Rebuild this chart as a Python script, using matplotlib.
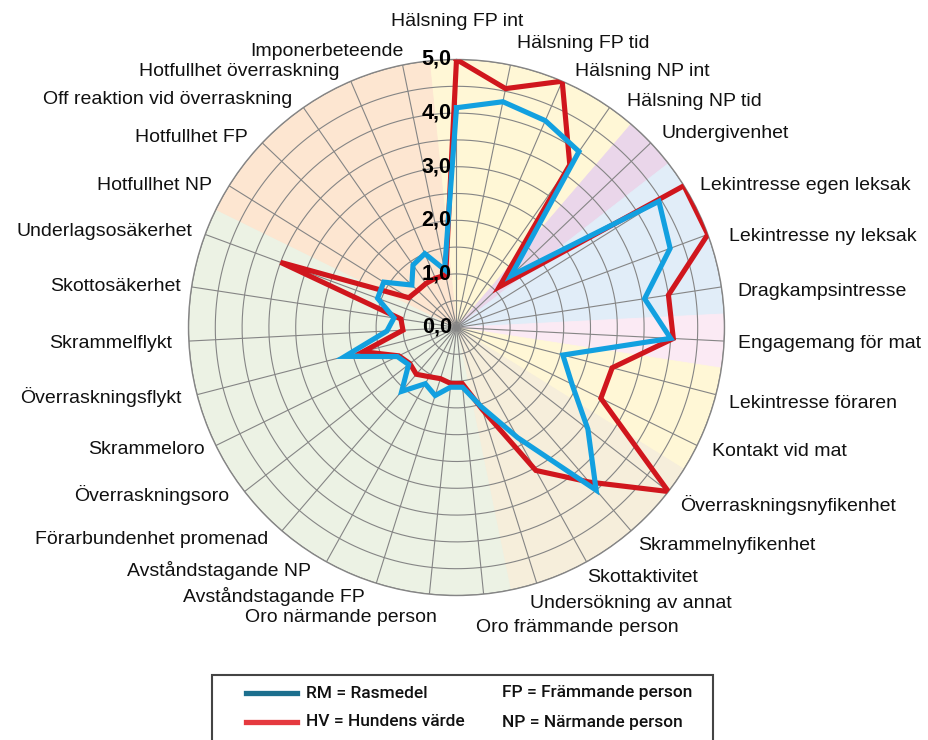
import numpy as np
import matplotlib.pyplot as plt
from matplotlib.patches import Rectangle
from matplotlib.lines import Line2D

plt.rcParams['font.family'] = ['Liberation Sans', 'DejaVu Sans']

# --- data ---
categories = [
    "Hälsning FP int", "Hälsning FP tid", "Hälsning NP int", "Hälsning NP tid",
    "Undergivenhet", "Lekintresse egen leksak", "Lekintresse ny leksak",
    "Dragkampsintresse", "Engagemang för mat", "Lekintresse föraren",
    "Kontakt vid mat", "Överraskningsnyfikenhet", "Skrammelnyfikenhet",
    "Skottaktivitet", "Undersökning av annat", "Oro främmande person",
    "Oro närmande person", "Avståndstagande FP", "Avståndstagande NP",
    "Förarbundenhet promenad", "Överraskningsoro", "Skrammeloro",
    "Överraskningsflykt", "Skrammelflykt", "Skottosäkerhet",
    "Underlagsosäkerhet", "Hotfullhet NP", "Hotfullhet FP",
    "Off reaktion vid överraskning", "Hotfullhet överraskning", "Imponerbeteende",
]
rasmedel = [4.1, 4.3, 4.2, 4.0, 1.4, 4.45, 4.25, 3.55, 4.0, 2.05,
            2.4, 3.1, 4.0, 2.35, 1.55, 1.12, 1.12, 1.33, 1.2, 1.57,
            1.13, 1.23, 2.15, 1.3, 1.18, 1.57, 1.6, 1.15, 1.42, 1.5, 1.1]
hundens_varde = [5.0, 4.55, 5.0, 3.7, 1.1, 5.0, 5.0, 4.0, 4.05, 3.0,
                 3.0, 5.0, 3.8, 3.05, 1.6, 1.05, 1.05, 1.0, 1.05, 1.15,
                 1.1, 1.2, 1.8, 1.0, 1.05, 3.5, 1.05, 1.0, 1.0, 1.0, 1.0]
groups = (["halsning"] * 4 + ["undergiven"] + ["lek"] * 3 + ["mat"]
          + ["forare"] * 2 + ["nyfiken"] * 4 + ["oro"] * 11 + ["hot"] * 5)
tick_values = [0, 1, 2, 3, 4, 5]
tick_labels = ["0,0", "1,0", "2,0", "3,0", "4,0", "5,0"]

# --- styling / layout ---
group_colors = {
    "halsning": "#fff7d6", "undergiven": "#ead6ea", "lek": "#e1edf8",
    "mat": "#fbeaf4", "forare": "#fff7d6", "nyfiken": "#f6eedb",
    "oro": "#ecf2e4", "hot": "#fde6d1",
}
# label anchors in pixels (x, y, ha)
label_pos = [
    (457, 21, "center"), (517, 44, "left"), (575, 71, "left"), (627, 101, "left"),
    (662, 134, "left"), (700, 185, "left"), (729, 237, "left"), (737, 292, "left"),
    (738, 343, "left"), (729, 403, "left"), (712, 451, "left"), (680, 505, "left"),
    (638, 545, "left"), (587, 577, "left"), (530, 603, "left"), (476, 627, "left"),
    (437, 617, "right"), (365, 597, "right"), (311, 571, "right"), (268, 540, "right"),
    (229, 495, "right"), (205, 450, "right"), (182, 397, "right"), (172, 343, "right"),
    (181, 287, "right"), (192, 232, "right"), (212, 185, "right"), (248, 137, "right"),
    (292, 100, "right"), (340, 72, "right"), (404, 52, "right"),
]
W, H = 929, 740
grid_col = "#858585"

n = len(categories)
theta = np.arange(n) * 2 * np.pi / n

fig = plt.figure(figsize=(W / 100, H / 100), dpi=100)
cx, cy, R = 456.5, 327.5, 268
ax = fig.add_axes([(cx - R) / W, (H - cy - R) / H, 2 * R / W, 2 * R / H],
                  projection="polar")
ax.set_theta_zero_location("N")
ax.set_theta_direction(-1)
ax.set_ylim(0, 5)
ax.grid(False)
ax.set_xticks([])
ax.set_yticks([])
ax.spines["polar"].set_color(grid_col)
ax.spines["polar"].set_linewidth(1.0)

# coloured sectors
cols = [group_colors[g] for g in groups]
ax.bar(theta, 5, width=2 * np.pi / n, bottom=0, color=cols, edgecolor=cols,
       linewidth=0.6, align="center", zorder=0)

# rings and spokes
tt = np.linspace(0, 2 * np.pi, 500)
for r in np.arange(0.5, 5.01, 0.5):
    ax.plot(tt, np.full_like(tt, r), color=grid_col, lw=0.8, zorder=1)
for t in theta:
    ax.plot([t, t], [0, 5], color=grid_col, lw=0.8, zorder=1)

# series
th_c = np.append(theta, theta[0])
ax.plot(th_c, np.append(hundens_varde, hundens_varde[0]), color="#d0161d",
        lw=3.7, zorder=3, solid_joinstyle="miter")
ax.plot(th_c, np.append(rasmedel, rasmedel[0]), color="#12a0e0",
        lw=3.7, zorder=4, solid_joinstyle="miter")

# radial tick labels
for v, lab in zip(tick_values, tick_labels):
    ax.annotate(lab, xy=(0, v), xytext=(-3.5, 0), textcoords="offset points",
                ha="right", va="center", fontsize=15.5, fontweight="bold",
                zorder=5, annotation_clip=False)

# category labels
for name, (x, y, ha) in zip(categories, label_pos):
    fig.text(x / W, 1 - y / H, name, ha=ha, va="center", fontsize=14,
             color="#111111")

# legend box
fig.add_artist(Rectangle((212 / W, (H - 748) / H), (713 - 212) / W, 73 / H,
                         transform=fig.transFigure, fill=False,
                         edgecolor="#444444", lw=1.5, clip_on=False))
leg_font = dict(fontsize=12.5, family=["Roboto", "Liberation Sans"],
                fontweight="medium", va="center", color="#111111")
fig.add_artist(Line2D([246 / W, 297 / W], [1 - 693 / H] * 2,
                      transform=fig.transFigure, color="#1c6f8e", lw=3.8))
fig.add_artist(Line2D([246 / W, 297 / W], [1 - 722 / H] * 2,
                      transform=fig.transFigure, color="#e5393f", lw=3.8))
fig.text(306 / W, 1 - 693 / H, "RM = Rasmedel", **leg_font)
fig.text(306 / W, 1 - 722 / H, "HV = Hundens värde", **leg_font)
fig.text(502 / W, 1 - 693 / H, "FP = Främmande person", **leg_font)
fig.text(502 / W, 1 - 722 / H, "NP = Närmande person", **leg_font)

fig.savefig("out.png", dpi=100)
